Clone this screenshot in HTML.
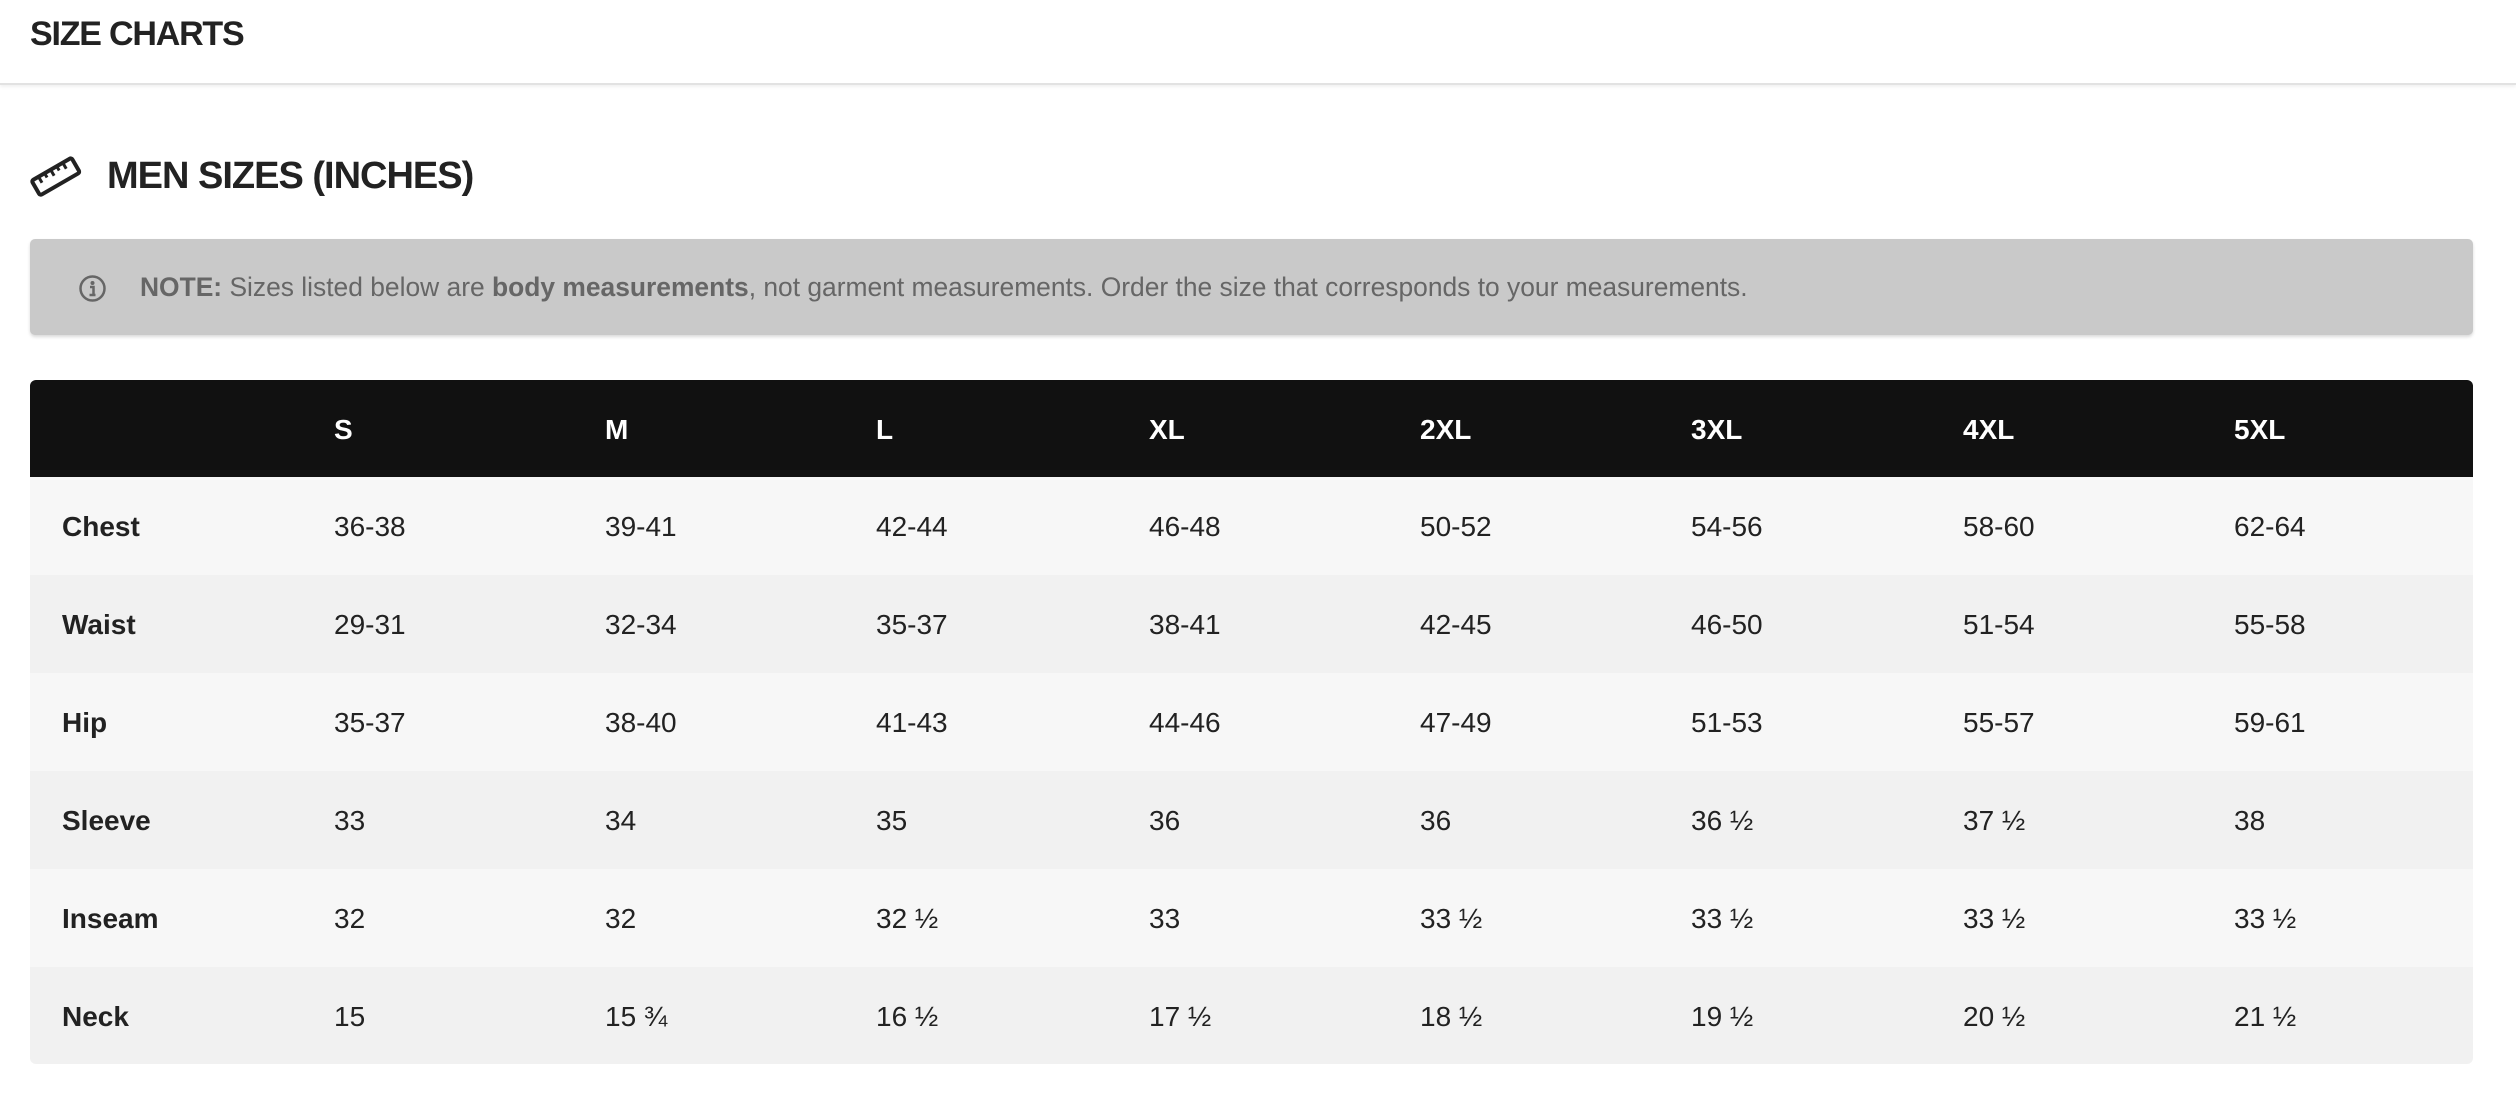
<!DOCTYPE html>
<html><head><meta charset="utf-8"><style>
*{margin:0;padding:0;box-sizing:border-box}
body{width:2516px;height:1106px;background:#fff;font-family:"Liberation Sans",sans-serif;color:#222;position:relative;overflow:hidden}
.top{position:absolute;left:0;top:0;width:2516px;height:85px;border-bottom:2px solid #e2e2e2;box-shadow:0 2px 3px rgba(0,0,0,.06)}
.top h1{position:absolute;left:30px;top:15px;font-size:34px;font-weight:bold;letter-spacing:-1.2px;color:#222}
.h2{position:absolute;left:107px;top:155px;font-size:38px;font-weight:bold;letter-spacing:-1px;color:#222}
.icon{position:absolute;left:30px;top:156px}
.note{position:absolute;left:30px;top:239px;width:2443px;height:96px;background:#c9c9c9;border-radius:5px;box-shadow:0 2px 3px rgba(0,0,0,.15)}
.note p{position:absolute;left:110px;top:33px;font-size:26.4px;color:#666;letter-spacing:0px;white-space:nowrap}
.tbl{position:absolute;left:30px;top:380px;width:2443px;height:684px;border-radius:6px;overflow:hidden}
.row{position:absolute;left:0;width:2443px;height:98px}
.row span{position:absolute;top:1px;line-height:98px;font-size:28px;white-space:nowrap}
.hd{top:0;height:97px;background:#111}
.hd span{color:#fff;font-weight:bold;line-height:97px}
.row span.l{font-weight:bold}
</style></head><body>
<div class="top"><h1>SIZE CHARTS</h1></div>
<svg class="icon" width="52" height="42" viewBox="0 0 52 42"><g transform="rotate(-30 26 21)" fill="none" stroke="#222" stroke-width="4"><rect x="3" y="12" width="46" height="17" rx="2"/><path d="M11 12v7M18 12v5M25 12v7M32 12v5M39 12v7" stroke-width="3"/></g></svg>
<div class="h2">MEN SIZES (INCHES)</div>
<div class="note"><p><b>NOTE:</b> Sizes listed below are <b>body measurements</b>, not garment measurements. Order the size that corresponds to your measurements.</p></div>
<svg style="position:absolute;left:78px;top:274px" width="29" height="29" viewBox="0 0 29 29"><circle cx="14.5" cy="14.5" r="12" fill="none" stroke="#666" stroke-width="2.5"/><circle cx="14.5" cy="9" r="2" fill="#666"/><path d="M12 13h3.5v8M11.5 21h6" stroke="#666" stroke-width="2.5" fill="none"/></svg>
<div class="tbl">
<div class="row hd"><span style="left:304px">S</span><span style="left:575px">M</span><span style="left:846px">L</span><span style="left:1119px">XL</span><span style="left:1390px">2XL</span><span style="left:1661px">3XL</span><span style="left:1933px">4XL</span><span style="left:2204px">5XL</span></div>
<div class="row" style="top:97px;background:#f7f7f7"><span class="l" style="left:32px">Chest</span><span style="left:304px">36-38</span><span style="left:575px">39-41</span><span style="left:846px">42-44</span><span style="left:1119px">46-48</span><span style="left:1390px">50-52</span><span style="left:1661px">54-56</span><span style="left:1933px">58-60</span><span style="left:2204px">62-64</span></div>
<div class="row" style="top:195px;background:#f1f1f1"><span class="l" style="left:32px">Waist</span><span style="left:304px">29-31</span><span style="left:575px">32-34</span><span style="left:846px">35-37</span><span style="left:1119px">38-41</span><span style="left:1390px">42-45</span><span style="left:1661px">46-50</span><span style="left:1933px">51-54</span><span style="left:2204px">55-58</span></div>
<div class="row" style="top:293px;background:#f7f7f7"><span class="l" style="left:32px">Hip</span><span style="left:304px">35-37</span><span style="left:575px">38-40</span><span style="left:846px">41-43</span><span style="left:1119px">44-46</span><span style="left:1390px">47-49</span><span style="left:1661px">51-53</span><span style="left:1933px">55-57</span><span style="left:2204px">59-61</span></div>
<div class="row" style="top:391px;background:#f1f1f1"><span class="l" style="left:32px">Sleeve</span><span style="left:304px">33</span><span style="left:575px">34</span><span style="left:846px">35</span><span style="left:1119px">36</span><span style="left:1390px">36</span><span style="left:1661px">36 ½</span><span style="left:1933px">37 ½</span><span style="left:2204px">38</span></div>
<div class="row" style="top:489px;background:#f7f7f7"><span class="l" style="left:32px">Inseam</span><span style="left:304px">32</span><span style="left:575px">32</span><span style="left:846px">32 ½</span><span style="left:1119px">33</span><span style="left:1390px">33 ½</span><span style="left:1661px">33 ½</span><span style="left:1933px">33 ½</span><span style="left:2204px">33 ½</span></div>
<div class="row" style="top:587px;background:#f1f1f1"><span class="l" style="left:32px">Neck</span><span style="left:304px">15</span><span style="left:575px">15 ¾</span><span style="left:846px">16 ½</span><span style="left:1119px">17 ½</span><span style="left:1390px">18 ½</span><span style="left:1661px">19 ½</span><span style="left:1933px">20 ½</span><span style="left:2204px">21 ½</span></div>
</div>
</body></html>
